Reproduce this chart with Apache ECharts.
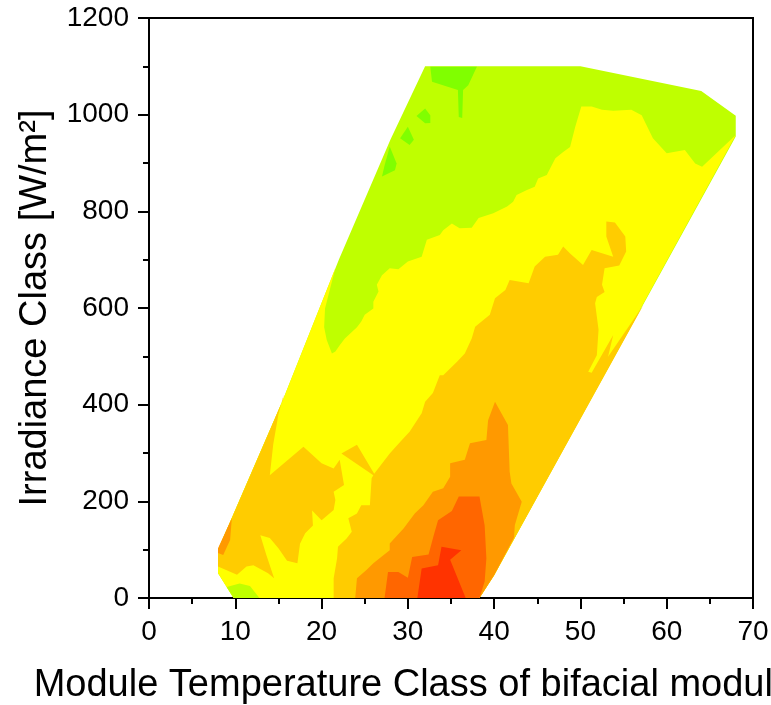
<!DOCTYPE html>
<html>
<head>
<meta charset="utf-8">
<script src="https://cdn.jsdelivr.net/npm/echarts@6/dist/echarts.min.js"></script>
<style>
  html, body { margin: 0; padding: 0; background: #fff; }
  #chart { width: 771px; height: 705px; }
</style>
</head>
<body>
<div id="chart"></div>
<script>
// contour bands, outlines as [temperature, irradiance]
const hull = [[9.8,0],[38.3,0],[40.0,47],[68,955],[68,998],[64,1049],[50,1100],[32,1100],[28,949],[22,700],[15.5,409],[8,100],[8,51]];

const yellowZone = [[21.6,683],[21.0,641],[20.4,599],[20.3,560],[20.6,534],[21.2,506],[21.6,510],[22.1,523],[22.7,537],
  [24.1,560],[24.6,572],[25.0,586],[26.0,599],[26.0,613],[26.6,634],[26.4,648],[27.0,668],[27.9,682],[28.9,680],
  [30.0,696],[31.6,706],[32.2,741],[33.7,751],[34.1,761],[35.1,775],[36.0,765],[37.4,766],[38.2,786],[39.9,796],
  [41.5,810],[42.2,820],[42.6,834],[43.8,844],[44.7,851],[45.1,868],[46.1,875],[46.5,889],[47.1,910],[48.0,923],
  [48.8,933],[49.4,975],[50.1,1017],[51.3,1017],[52.5,1010],[53.8,1008],[55.9,1010],[57.1,999],[58.4,951],
  [60.0,920],[62.1,927],[63.3,899],[64.1,892],[68,958],[40.0,47],[38.3,0],[9.8,0],[8,51],[8,100],[15.5,409]];

const greenTop = [[32.6,1099],[38.0,1099],[37.0,1061],[36.4,1051],[36.3,993],[35.9,995],[35.8,1051],[32.8,1068]];
const greenDot1 = [[31.0,997],[32.0,1013],[32.6,999],[32.6,983],[32.0,982]];
const greenDot2 = [[29.1,951],[30.0,975],[30.7,948],[30.2,937]];
const greenDot3 = [[27.9,934],[28.7,899],[28.5,885],[27.0,872],[27.3,895]];
const limeCorner = [[9.8,0],[9.0,23],[10.5,30],[11.7,25],[12.8,0]];

const goldLeft = [[15.6,420],[15.0,380],[14.4,318],[14.0,254],[17.9,313],[20.0,279],[21.4,268],[22.1,286],[22.6,234],
  [21.4,220],[21.6,203],[21.4,182],[20.0,161],[18.9,181],[19.0,150],[18.1,134],[17.5,112],[17.2,72],[16.0,77],
  [15.0,103],[14.0,124],[12.9,130],[13.6,89],[14.5,41],[13.8,51],[12.1,68],[11.3,65],[10.2,48],[8.0,65],[8,100],[15.5,409]];

const goldCenter = [[21.4,0],[21.4,41],[21.8,82],[21.9,106],[22.9,123],[23.5,137],[23.1,165],[24.1,175],[24.6,192],
  [25.6,192],[25.8,248],[26.0,254],[22.3,299],[24.1,317],[26.1,257],[27.9,299],[29.1,323],[30.2,344],[31.6,382],
  [32.0,406],[32.9,424],[33.7,461],[34.1,461],[35.7,489],[36.6,506],[37.4,537],[37.8,561],[39.5,586],[40.1,620],
  [41.3,637],[41.8,658],[44.0,651],[44.7,686],[45.9,706],[47.4,710],[48.0,727],[48.8,713],[50.3,689],[51.3,720],
  [53.8,706],[53.0,748],[53.0,779],[54.0,777],[55.2,748],[55.3,717],[54.5,688],[52.8,682],[52.5,648],[52.8,633],
  [51.9,623],[51.7,610],[52.1,555],[51.9,502],[50.9,468],[51.3,466],[53.8,544],[53.2,499],[57.3,606],[40.0,47],[38.3,0]];

const orangeEdge = [[8.0,103],[9.6,165],[9.4,120],[8.6,89],[8.0,93]];
const orangeZone = [[23.9,0],[24.1,41],[25.2,58],[26.0,72],[27.2,89],[27.9,99],[27.9,113],[29.5,144],[30.8,175],
  [31.8,192],[32.9,220],[34.1,227],[34.9,251],[34.9,279],[36.6,286],[37.2,320],[39.1,327],[39.3,368],[40.1,406],
  [41.6,358],[41.8,261],[42.0,237],[43.2,199],[42.4,151],[42.3,125],[40.0,47],[38.3,0]];

const darkOrangeZone = [[27.3,0],[27.7,54],[28.9,54],[30.0,42],[30.5,85],[32.4,90],[33.0,130],[33.5,161],[35.1,180],
  [35.9,210],[38.3,210],[38.9,150],[39.1,82],[38.9,34],[38.3,0]];

const redZone = [[31.1,0],[31.6,61],[33.5,68],[33.9,106],[36.2,99],[34.9,79],[36.7,0]];

// painted bottom to top
const layerShapes = [hull, greenTop, greenDot1, greenDot2, greenDot3, yellowZone, limeCorner,
  goldLeft, goldCenter, orangeEdge, orangeZone, darkOrangeZone, redZone];
const layerColors = ['#bfff00', '#80ff00', '#80ff00', '#80ff00', '#80ff00', '#ffff00', '#bfff00',
  '#ffcc00', '#ffcc00', '#ff9900', '#ff9900', '#ff6600', '#ff3300'];

const xTicks = { min: 0, max: 70, step: 10 };
const yTicks = { min: 0, max: 1200, step: 200 };

const myChart = echarts.init(document.getElementById('chart'));
const font = 'Liberation Sans, Arial, sans-serif';

const axisCommon = {
  axisLine: { show: true, onZero: false, lineStyle: { color: '#000', width: 2 } },
  axisTick: { show: true, inside: false, length: 11, lineStyle: { color: '#000', width: 2 } },
  minorTick: { show: true, splitNumber: 2, length: 6, lineStyle: { color: '#000', width: 2 } },
  splitLine: { show: false },
  axisLabel: { color: '#000', fontSize: 28, fontFamily: font, margin: 20, formatter: v => String(v) },
  nameTextStyle: { color: '#000', fontSize: 38, fontFamily: font }
};

const option = {
  animation: false,
  grid: {
    left: 149, right: 18, top: 18, bottom: 107,
    containLabel: false,
    outerBoundsMode: 'none',
    show: true, borderColor: '#000', borderWidth: 2, backgroundColor: 'transparent'
  },
  xAxis: Object.assign({}, axisCommon, {
    type: 'value',
    min: xTicks.min, max: xTicks.max, interval: xTicks.step,
    name: 'Module Temperature Class of bifacial module [°C]',
    nameLocation: 'middle',
    nameGap: 69
  }),
  yAxis: Object.assign({}, axisCommon, {
    type: 'value',
    min: yTicks.min, max: yTicks.max, interval: yTicks.step,
    name: 'Irradiance Class [W/m²]',
    nameLocation: 'middle',
    nameGap: 94
  }),
  series: [{
    type: 'custom',
    silent: true,
    clip: true,
    data: layerShapes.map((s, i) => [0, 0, i]),
    renderItem: function (params, api) {
      const i = params.dataIndex;
      const points = layerShapes[i].map(p => api.coord(p));
      return {
        type: 'polygon',
        shape: { points: points },
        style: { fill: layerColors[i], stroke: null }
      };
    }
  }]
};

myChart.setOption(option);
</script>
</body>
</html>
